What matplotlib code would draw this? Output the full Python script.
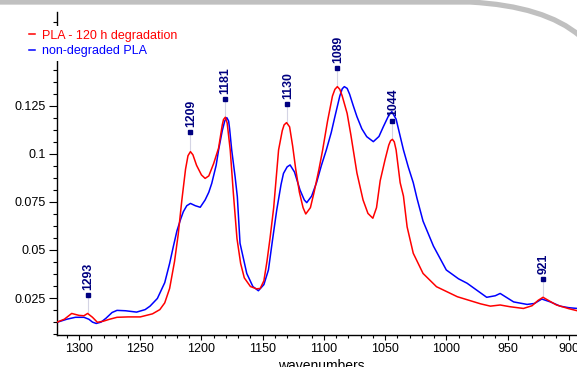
import matplotlib
matplotlib.use("Agg")
import matplotlib.pyplot as plt
import numpy as np
from matplotlib.ticker import MultipleLocator, FixedLocator
from matplotlib.path import Path
from matplotlib.patches import PathPatch

plt.rcParams['font.family'] = ['Liberation Sans', 'DejaVu Sans']

# ---------------- data ----------------
red_wn = [1318, 1312, 1306, 1300, 1296, 1293, 1289, 1285, 1280, 1275, 1269, 1260, 1250, 1240, 1234, 1230,
          1226, 1222, 1219, 1216, 1213, 1211, 1209, 1207, 1204, 1200, 1197, 1194, 1190, 1186, 1183, 1182,
          1180.5, 1179, 1176.5, 1174, 1171, 1168, 1165, 1160, 1155, 1152, 1149, 1146.5, 1144, 1141, 1137,
          1134, 1132.5, 1130.5, 1128, 1125.5, 1123, 1120, 1117, 1114.8, 1111, 1108, 1104, 1101, 1097, 1093,
          1091, 1089, 1087, 1085, 1081, 1078, 1073, 1068, 1064, 1060, 1057, 1054, 1050, 1047, 1045.5, 1044,
          1042.5, 1041, 1037.7, 1035, 1032, 1027, 1019, 1008, 991, 972, 964, 956, 948, 937, 930, 925, 921,
          915, 910, 900, 893, 887]
red_abs = [0.0125, 0.0140, 0.0170, 0.0160, 0.0158, 0.0170, 0.0150, 0.0124, 0.0130, 0.0140, 0.0150, 0.0152,
           0.0152, 0.0168, 0.0190, 0.0225, 0.0300, 0.0440, 0.0580, 0.0760, 0.0920, 0.0990, 0.1011, 0.0995,
           0.0940, 0.0890, 0.0872, 0.0885, 0.0950, 0.1030, 0.1150, 0.1178, 0.1190, 0.1160, 0.1020, 0.0800,
           0.0560, 0.0430, 0.0355, 0.0310, 0.0298, 0.0300, 0.0340, 0.0440, 0.0560, 0.0720, 0.1020, 0.1120,
           0.1150, 0.1162, 0.1140, 0.1040, 0.0920, 0.0800, 0.0720, 0.0687, 0.0720, 0.0800, 0.0920, 0.1020,
           0.1170, 0.1300, 0.1335, 0.1349, 0.1335, 0.1300, 0.1210, 0.1100, 0.0900, 0.0760, 0.0690, 0.0665,
           0.0720, 0.0860, 0.0970, 0.1045, 0.1068, 0.1075, 0.1062, 0.1020, 0.0850, 0.0780, 0.0620, 0.0483,
           0.0378, 0.0309, 0.0257, 0.0220, 0.0208, 0.0214, 0.0205, 0.0196, 0.0210, 0.0238, 0.0254, 0.0232,
           0.0214, 0.0195, 0.0184, 0.0178]

blue_wn = [1318, 1310, 1303, 1296, 1292, 1289, 1286, 1282, 1278, 1273, 1269, 1262, 1253, 1246, 1242, 1236,
           1230, 1226, 1223, 1220, 1217, 1214.8, 1212, 1209, 1205, 1201, 1197, 1194, 1191.6, 1188, 1186,
           1183, 1181, 1179.3, 1177.8, 1177, 1175.3, 1172.5, 1170.7, 1168.5, 1163, 1158, 1153.5, 1149,
           1145.3, 1142, 1138.5, 1135, 1133, 1130, 1127.6, 1124, 1119.5, 1116, 1114, 1110, 1106, 1102, 1098,
           1094, 1091, 1087, 1085, 1083.3, 1081, 1079, 1076, 1073, 1069, 1065, 1059.6, 1055, 1051.4, 1047,
           1044.5, 1041, 1038, 1035, 1031, 1027, 1024, 1019, 1010.5, 1000, 990, 983, 967, 960, 956, 950,
           945, 934, 928, 922, 915, 907, 900, 893, 887]
blue_abs = [0.0124, 0.0140, 0.0150, 0.0150, 0.0140, 0.0125, 0.0118, 0.0125, 0.0145, 0.0175, 0.0186,
            0.0184, 0.0177, 0.0190, 0.0208, 0.0248, 0.0330, 0.0430, 0.0517, 0.0600, 0.0660, 0.0699, 0.0730,
            0.0742, 0.0730, 0.0722, 0.0760, 0.0800, 0.0846, 0.0940, 0.1020, 0.1120, 0.1170, 0.1188, 0.1170,
            0.1130, 0.1020, 0.0880, 0.0777, 0.0535, 0.0378, 0.0310, 0.0288, 0.0320, 0.0396, 0.0550, 0.0708,
            0.0840, 0.0898, 0.0932, 0.0942, 0.0905, 0.0812, 0.0760, 0.0746, 0.0780, 0.0850, 0.0940, 0.1020,
            0.1110, 0.1193, 0.1300, 0.1338, 0.1349, 0.1340, 0.1310, 0.1250, 0.1193, 0.1130, 0.1089, 0.1063,
            0.1090, 0.1141, 0.1200, 0.1219, 0.1180, 0.1100, 0.1020, 0.0930, 0.0850, 0.0770, 0.0650, 0.0520,
            0.0396, 0.0350, 0.0327, 0.0254, 0.0262, 0.0274, 0.0250, 0.0230, 0.0217, 0.0222, 0.0245, 0.0230,
            0.0208, 0.0200, 0.0196, 0.0190]

peak_wn = [1293, 1209, 1181, 1130, 1089, 1044, 921]
peak_labels = ["1293", "1209", "1181", "1130", "1089", "1044", "921"]
peak_mark_y = [0.0266, 0.1113, 0.1285, 0.1259, 0.1446, 0.1172, 0.0349]

series_names = ["PLA - 120 h degradation", "non-degraded PLA"]

x_ticks = [1300, 1250, 1200, 1150, 1100, 1050, 1000, 950, 900]
y_ticks = [0.025, 0.05, 0.075, 0.1, 0.125]
y_tick_labels = ["0.025", "0.05", "0.075", "0.1", "0.125"]

# ---------------- figure ----------------
W, H = 577, 367
fig = plt.figure(figsize=(W / 100, H / 100), dpi=100)
ax = fig.add_axes([57 / W, (H - 335) / H, (585 - 57) / W, (335 - 12) / H])

navy = '#000080'

# peak markers: thin guide lines, squares and labels
red_wn_arr = np.array(red_wn)[::-1]
red_abs_arr = np.array(red_abs)[::-1]
for wn, lab, my in zip(peak_wn, peak_labels, peak_mark_y):
    base = np.interp(wn, red_wn_arr, red_abs_arr)
    ax.plot([wn, wn], [base, my], color='#d4d4e4', lw=0.8, zorder=1)
    ax.plot([wn], [my], marker='s', ms=3.2, color=navy, mec=navy, zorder=4, ls='none')
    ax.annotate(lab, xy=(wn, my), xytext=(0.5, 3.5), textcoords='offset points',
                rotation=90, ha='center', va='bottom', fontsize=8.8,
                fontweight='bold', color=navy, zorder=4)

l1, = ax.plot(red_wn, red_abs, color='#ff0000', lw=1.1, zorder=3)
l2, = ax.plot(blue_wn, blue_abs, color='#0000ff', lw=1.1, zorder=2)

ax.set_xlim(1318, 886.7)
ax.set_ylim(0.0058, 0.1737)

ax.xaxis.set_major_locator(FixedLocator(x_ticks))
ax.xaxis.set_minor_locator(MultipleLocator(10))
ax.set_yticks(y_ticks)
ax.set_yticklabels(y_tick_labels)
ax.yaxis.set_minor_locator(MultipleLocator(0.00625))

ax.tick_params(axis='both', which='major', labelsize=9, colors='black', width=0.8, pad=2)
ax.tick_params(axis='x', which='major', length=3.5)
ax.tick_params(axis='x', which='minor', length=1.8, width=0.8)
ax.tick_params(axis='y', which='major', length=6, pad=2)
ax.tick_params(axis='y', which='minor', length=3, width=0.8)

for side in ['top', 'right']:
    ax.spines[side].set_visible(False)
for side in ['left', 'bottom']:
    ax.spines[side].set_linewidth(1.0)
    ax.spines[side].set_color('black')

ax.set_xlabel('wavenumbers', fontsize=10, labelpad=3)

leg = ax.legend([l1, l2], series_names, loc='upper left', bbox_to_anchor=(25 / W, 1 - 26 / H),
                bbox_transform=fig.transFigure, frameon=True, fontsize=9, handlelength=0.5,
                handletextpad=0.6, borderpad=0.3, labelspacing=0.25, borderaxespad=0)
leg.get_frame().set_facecolor('white')
leg.get_frame().set_edgecolor('none')
leg.get_frame().set_alpha(1.0)
for txt, c in zip(leg.get_texts(), ['#ff0000', '#0000ff']):
    txt.set_color(c)

# decorative grey band at the top of the screenshot
verts = [(0, 2), (470, 2), (545, 6), (580, 36)]
codes = [Path.MOVETO, Path.LINETO, Path.CURVE3, Path.CURVE3]
verts_fig = [(vx / W, 1 - vy / H) for vx, vy in verts]
band = PathPatch(Path(verts_fig, codes), transform=fig.transFigure, facecolor='none',
                 edgecolor='#c0c0c0', lw=3.8, zorder=10)
fig.patches.append(band)

fig.savefig('out.png', dpi=100)
